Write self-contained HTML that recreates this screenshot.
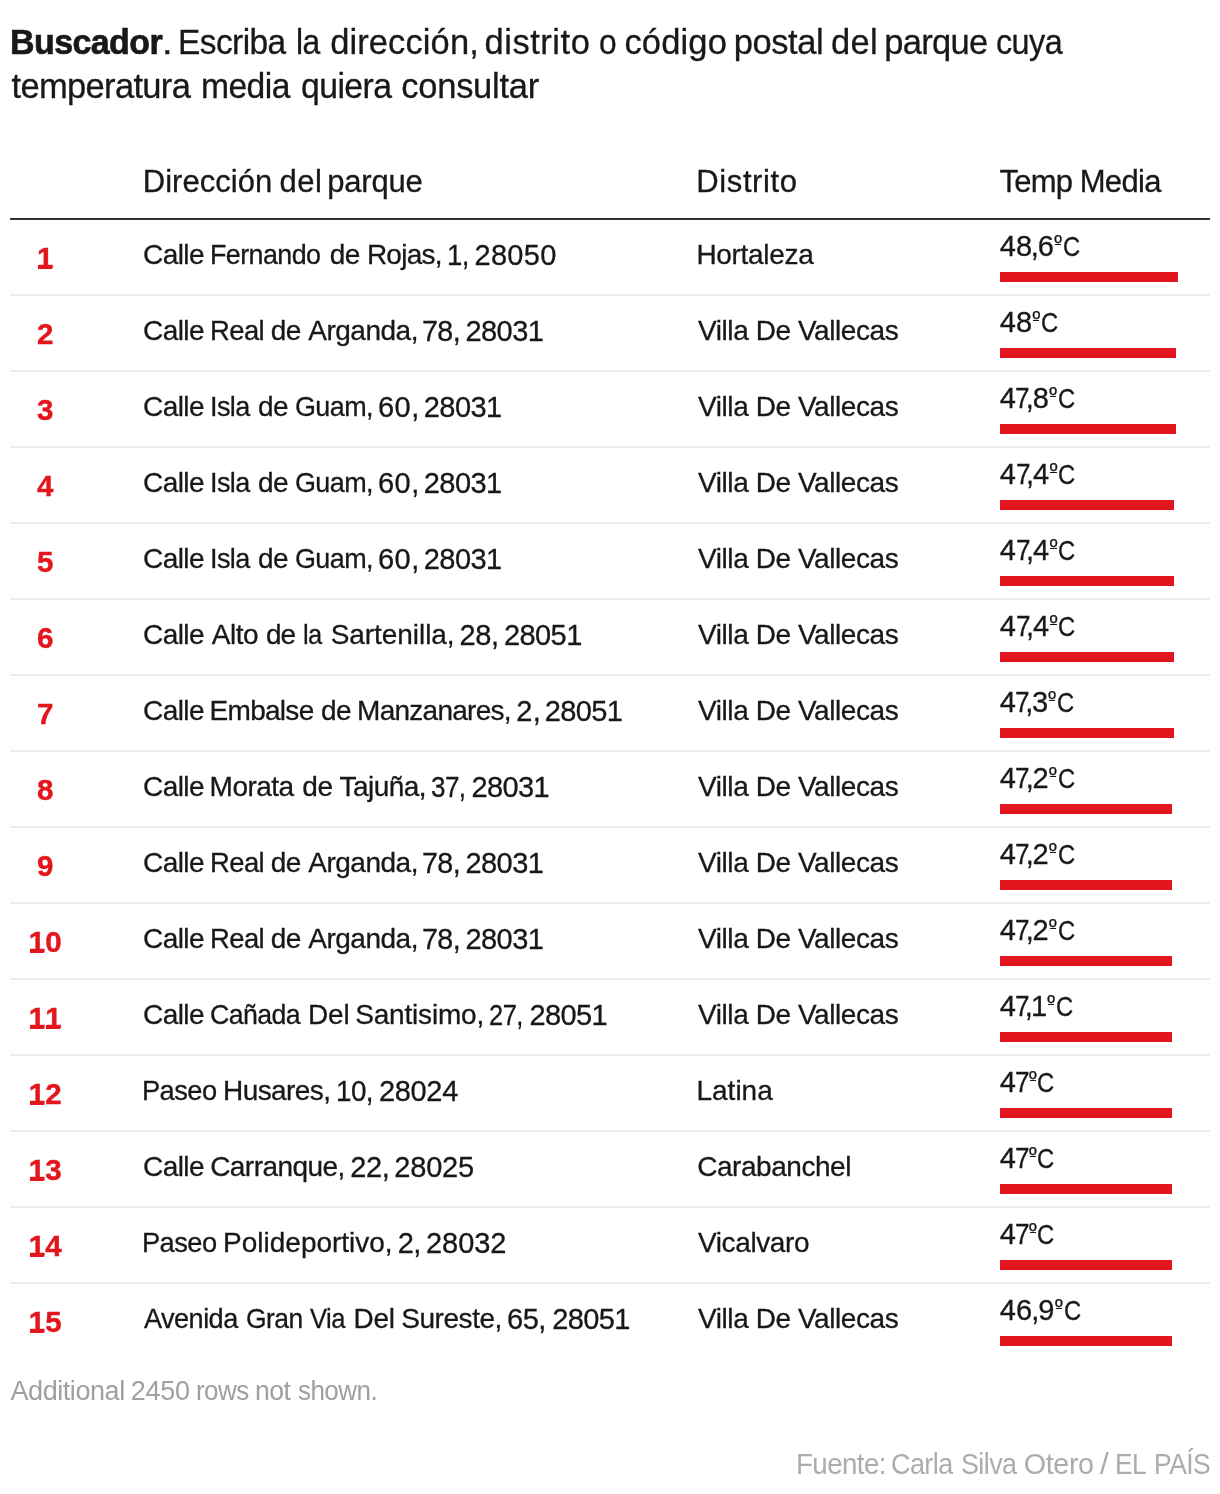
<!DOCTYPE html>
<html lang="es"><head><meta charset="utf-8"><title>Buscador</title>
<style>
html,body{margin:0;padding:0;background:#fff;}
body{width:1220px;height:1494px;position:relative;overflow:hidden;font-family:"Liberation Sans",sans-serif;color:#181818;}
.x{position:absolute;white-space:nowrap;transform-origin:0 0;-webkit-text-stroke:0.3px currentColor;}
.title{font-size:34.5px;line-height:44px;}
.tb{font-weight:bold;-webkit-text-stroke:0.65px currentColor;}
.hdr{font-size:31px;line-height:36px;}
.a,.d,.t{font-size:28px;line-height:32px;}
.ag{font-size:29px;line-height:32px;}
.g{font-size:29px;letter-spacing:-0.1px;}
.c{margin:0 -1.2px;}
.o{font-size:21px;position:relative;top:-6px;letter-spacing:0;margin:0 0.9px 0 0.5px;display:inline-block;line-height:21px;}
.o::after{content:"";position:absolute;left:0.8px;right:0.8px;top:11.7px;height:1.3px;background:#181818;}
.cc{display:inline-block;transform:scaleX(0.85);transform-origin:0 50%;margin-right:-3.3px;}
.s7{display:inline-block;transform:scaleX(0.9);transform-origin:0 50%;margin:0 -2.3px 0 -0.5px;}
.k{margin-left:-3.4px;}
.n{width:70px;text-align:center;font-weight:bold;color:#e2161c;font-size:29.5px;line-height:32px;-webkit-text-stroke:0.4px currentColor;}
.n i{font-style:normal;position:relative;display:inline-block;}
.n i::after{content:"";position:absolute;left:1px;right:1.6px;bottom:5.5px;height:4px;background:#e2161c;}
.bar{position:absolute;left:1000px;height:10px;background:#e2161c;}
.hline{position:absolute;left:10px;width:1200px;top:218px;height:2px;background:#333;}
.dv{position:absolute;left:10px;width:1200px;height:2px;background:#ececec;}
.more{font-size:27px;line-height:30px;color:#a0a0a0;-webkit-text-stroke:0;}
.src{font-size:28.7px;line-height:32px;color:#acacac;-webkit-text-stroke:0;}
</style></head><body>
<div class="tl"><span class="x title tb" style="left:9.84px;top:20px;letter-spacing:-0.6px;transform:scaleX(0.9855)">Buscador</span><span class="x title" style="left:161.6px;top:20px;letter-spacing:0px;transform:scaleX(1.1)">. </span><span class="x title" style="left:178.49px;top:20px;letter-spacing:-0.6px;transform:scaleX(0.971)">Escriba </span><span class="x title" style="left:296.47px;top:20px;letter-spacing:-0.6px;transform:scaleX(0.9239)">la </span><span class="x title" style="left:330.15px;top:20px;letter-spacing:0.113px">dirección, </span><span class="x title" style="left:484.55px;top:20px;letter-spacing:0.53px">distrito </span><span class="x title" style="left:599.36px;top:20px;letter-spacing:0px;transform:scaleX(0.9195)">o </span><span class="x title" style="left:624.44px;top:20px;letter-spacing:0.143px">código </span><span class="x title" style="left:733.65px;top:20px;letter-spacing:-0.413px">postal </span><span class="x title" style="left:831.05px;top:20px;letter-spacing:0.296px">del </span><span class="x title" style="left:884.25px;top:20px;letter-spacing:-0.715px">parque </span><span class="x title" style="left:996.13px;top:20px;letter-spacing:-0.6px;transform:scaleX(0.9373)">cuya </span></div>
<div class="tl"><span class="x title" style="left:11.57px;top:64px;letter-spacing:-0.671px">temperatura </span><span class="x title" style="left:201.26px;top:64px;letter-spacing:-0.6px;transform:scaleX(0.976)">media </span><span class="x title" style="left:300.77px;top:64px;letter-spacing:-0.6px;transform:scaleX(0.9795)">quiera </span><span class="x title" style="left:401.34px;top:64px;letter-spacing:-0.272px">consultar </span></div>
<div class="tl"><span class="x hdr" style="left:142.76px;top:164px;letter-spacing:0.045px">Dirección </span><span class="x hdr" style="left:279.46px;top:164px;letter-spacing:0.5px">del </span><span class="x hdr" style="left:327.37px;top:164px;letter-spacing:-0.252px">parque </span></div>
<div class="x hdr" style="left:696.26px;top:164px;letter-spacing:0.619px">Distrito</div>
<div class="tl"><span class="x hdr" style="left:999.53px;top:164px;letter-spacing:-0.771px">Temp </span><span class="x hdr" style="left:1079.66px;top:164px;letter-spacing:-0.671px">Media </span></div>
<div class="hline"></div>
<div class="x n" style="left:10.2px;top:242px;letter-spacing:0px"><i>1</i></div>
<div class="tl"><span class="x a" style="left:143.07px;top:239px;letter-spacing:-0.599px">Calle </span><span class="x a" style="left:210.11px;top:239px;letter-spacing:-0.6px;transform:scaleX(0.9597)">Fernando </span><span class="x a" style="left:329.74px;top:239px;letter-spacing:-0.624px">de </span><span class="x a" style="left:366.92px;top:239px;letter-spacing:-0.756px">Rojas, </span><span class="x a ag" style="left:447.49px;top:239px;letter-spacing:-0.6px;transform:scaleX(0.9495)">1, </span><span class="x a ag" style="left:474.52px;top:239px;letter-spacing:0.291px">28050 </span></div>
<div class="x d" style="left:696.42px;top:239px;letter-spacing:-0.314px">Hortaleza</div>
<div class="x t" style="left:999.83px;top:230px"><span class="g" style="letter-spacing:-0.025px">48<span class="c">,</span>6</span><span class="o">º</span><span class="cc">C</span></div>
<div class="bar" style="top:272px;width:178px"></div>
<div class="dv" style="top:294px"></div>
<div class="x n" style="left:10.2px;top:318px;letter-spacing:0px">2</div>
<div class="tl"><span class="x a" style="left:143.07px;top:315px;letter-spacing:-0.599px">Calle </span><span class="x a" style="left:209.66px;top:315px;letter-spacing:-0.6px;transform:scaleX(0.9793)">Real </span><span class="x a" style="left:270.84px;top:315px;letter-spacing:-0.624px">de </span><span class="x a" style="left:308.24px;top:315px;letter-spacing:-0.489px">Arganda, </span><span class="x a ag" style="left:421.91px;top:315px;letter-spacing:-0.6px;transform:scaleX(0.9865)">78, </span><span class="x a ag" style="left:465.42px;top:315px;letter-spacing:-0.521px">28031 </span></div>
<div class="x d" style="left:698.0px;top:315px;letter-spacing:-0.425px">Villa De Vallecas</div>
<div class="x t" style="left:999.83px;top:306px"><span class="g" style="letter-spacing:-0.051px">48</span><span class="o">º</span><span class="cc">C</span></div>
<div class="bar" style="top:348px;width:176px"></div>
<div class="dv" style="top:370px"></div>
<div class="x n" style="left:10.2px;top:394px;letter-spacing:0px">3</div>
<div class="tl"><span class="x a" style="left:143.07px;top:391px;letter-spacing:-0.599px">Calle </span><span class="x a" style="left:209.52px;top:391px;letter-spacing:-0.6px;transform:scaleX(0.9649)">Isla </span><span class="x a" style="left:257.94px;top:391px;letter-spacing:-0.624px">de </span><span class="x a" style="left:294.53px;top:391px;letter-spacing:-0.6px;transform:scaleX(0.9619)">Guam, </span><span class="x a ag" style="left:377.95px;top:391px;letter-spacing:0.537px">60, </span><span class="x a ag" style="left:423.72px;top:391px;letter-spacing:-0.546px">28031 </span></div>
<div class="x d" style="left:698.0px;top:391px;letter-spacing:-0.425px">Villa De Vallecas</div>
<div class="x t" style="left:999.83px;top:382px"><span class="g" style="letter-spacing:-0.025px">4<span class="s7">7</span><span class="c k">,</span>8</span><span class="o">º</span><span class="cc">C</span></div>
<div class="bar" style="top:424px;width:176px"></div>
<div class="dv" style="top:446px"></div>
<div class="x n" style="left:10.2px;top:470px;letter-spacing:0px">4</div>
<div class="tl"><span class="x a" style="left:143.07px;top:467px;letter-spacing:-0.599px">Calle </span><span class="x a" style="left:209.52px;top:467px;letter-spacing:-0.6px;transform:scaleX(0.9649)">Isla </span><span class="x a" style="left:257.94px;top:467px;letter-spacing:-0.624px">de </span><span class="x a" style="left:294.53px;top:467px;letter-spacing:-0.6px;transform:scaleX(0.9619)">Guam, </span><span class="x a ag" style="left:377.95px;top:467px;letter-spacing:0.537px">60, </span><span class="x a ag" style="left:423.72px;top:467px;letter-spacing:-0.546px">28031 </span></div>
<div class="x d" style="left:698.0px;top:467px;letter-spacing:-0.425px">Villa De Vallecas</div>
<div class="x t" style="left:999.83px;top:458px"><span class="g" style="letter-spacing:0.05px">4<span class="s7">7</span><span class="c k">,</span>4</span><span class="o">º</span><span class="cc">C</span></div>
<div class="bar" style="top:500px;width:174px"></div>
<div class="dv" style="top:522px"></div>
<div class="x n" style="left:10.2px;top:546px;letter-spacing:0px">5</div>
<div class="tl"><span class="x a" style="left:143.07px;top:543px;letter-spacing:-0.599px">Calle </span><span class="x a" style="left:209.52px;top:543px;letter-spacing:-0.6px;transform:scaleX(0.9649)">Isla </span><span class="x a" style="left:257.94px;top:543px;letter-spacing:-0.624px">de </span><span class="x a" style="left:294.53px;top:543px;letter-spacing:-0.6px;transform:scaleX(0.9619)">Guam, </span><span class="x a ag" style="left:377.95px;top:543px;letter-spacing:0.537px">60, </span><span class="x a ag" style="left:423.72px;top:543px;letter-spacing:-0.546px">28031 </span></div>
<div class="x d" style="left:698.0px;top:543px;letter-spacing:-0.425px">Villa De Vallecas</div>
<div class="x t" style="left:999.83px;top:534px"><span class="g" style="letter-spacing:0.05px">4<span class="s7">7</span><span class="c k">,</span>4</span><span class="o">º</span><span class="cc">C</span></div>
<div class="bar" style="top:576px;width:174px"></div>
<div class="dv" style="top:598px"></div>
<div class="x n" style="left:10.2px;top:622px;letter-spacing:0px">6</div>
<div class="tl"><span class="x a" style="left:143.07px;top:619px;letter-spacing:-0.599px">Calle </span><span class="x a" style="left:211.64px;top:619px;letter-spacing:-0.421px">Alto </span><span class="x a" style="left:265.94px;top:619px;letter-spacing:-0.924px">de </span><span class="x a" style="left:302.89px;top:619px;letter-spacing:-0.6px;transform:scaleX(0.9113)">la </span><span class="x a" style="left:330.68px;top:619px;letter-spacing:-0.056px">Sartenilla, </span><span class="x a ag" style="left:459.62px;top:619px;letter-spacing:-0.45px">28, </span><span class="x a ag" style="left:504.02px;top:619px;letter-spacing:-0.596px">28051 </span></div>
<div class="x d" style="left:698.0px;top:619px;letter-spacing:-0.425px">Villa De Vallecas</div>
<div class="x t" style="left:999.83px;top:610px"><span class="g" style="letter-spacing:0.05px">4<span class="s7">7</span><span class="c k">,</span>4</span><span class="o">º</span><span class="cc">C</span></div>
<div class="bar" style="top:652px;width:174px"></div>
<div class="dv" style="top:674px"></div>
<div class="x n" style="left:10.2px;top:698px;letter-spacing:0px">7</div>
<div class="tl"><span class="x a" style="left:143.07px;top:695px;letter-spacing:-0.599px">Calle </span><span class="x a" style="left:209.62px;top:695px;letter-spacing:-0.724px">Embalse </span><span class="x a" style="left:321.04px;top:695px;letter-spacing:-0.624px">de </span><span class="x a" style="left:357.12px;top:695px;letter-spacing:-0.742px">Manzanares, </span><span class="x a ag" style="left:516.22px;top:695px;letter-spacing:0.4px">2, </span><span class="x a ag" style="left:544.72px;top:695px;letter-spacing:-0.621px">28051 </span></div>
<div class="x d" style="left:698.0px;top:695px;letter-spacing:-0.425px">Villa De Vallecas</div>
<div class="x t" style="left:999.83px;top:686px"><span class="g" style="letter-spacing:-0.275px">4<span class="s7">7</span><span class="c k">,</span>3</span><span class="o">º</span><span class="cc">C</span></div>
<div class="bar" style="top:728px;width:174px"></div>
<div class="dv" style="top:750px"></div>
<div class="x n" style="left:10.2px;top:774px;letter-spacing:0px">8</div>
<div class="tl"><span class="x a" style="left:143.07px;top:771px;letter-spacing:-0.599px">Calle </span><span class="x a" style="left:209.62px;top:771px;letter-spacing:-0.557px">Morata </span><span class="x a" style="left:302.34px;top:771px;letter-spacing:-0.524px">de </span><span class="x a" style="left:339.59px;top:771px;letter-spacing:-0.543px">Tajuña, </span><span class="x a ag" style="left:431.42px;top:771px;letter-spacing:-0.6px;transform:scaleX(0.8962)">37, </span><span class="x a ag" style="left:471.52px;top:771px;letter-spacing:-0.621px">28031 </span></div>
<div class="x d" style="left:698.0px;top:771px;letter-spacing:-0.425px">Villa De Vallecas</div>
<div class="x t" style="left:999.83px;top:762px"><span class="g" style="letter-spacing:-0.1px">4<span class="s7">7</span><span class="c k">,</span>2</span><span class="o">º</span><span class="cc">C</span></div>
<div class="bar" style="top:804px;width:172px"></div>
<div class="dv" style="top:826px"></div>
<div class="x n" style="left:10.2px;top:850px;letter-spacing:0px">9</div>
<div class="tl"><span class="x a" style="left:143.07px;top:847px;letter-spacing:-0.599px">Calle </span><span class="x a" style="left:209.66px;top:847px;letter-spacing:-0.6px;transform:scaleX(0.9793)">Real </span><span class="x a" style="left:270.84px;top:847px;letter-spacing:-0.624px">de </span><span class="x a" style="left:308.24px;top:847px;letter-spacing:-0.489px">Arganda, </span><span class="x a ag" style="left:421.91px;top:847px;letter-spacing:-0.6px;transform:scaleX(0.9865)">78, </span><span class="x a ag" style="left:465.42px;top:847px;letter-spacing:-0.521px">28031 </span></div>
<div class="x d" style="left:698.0px;top:847px;letter-spacing:-0.425px">Villa De Vallecas</div>
<div class="x t" style="left:999.83px;top:838px"><span class="g" style="letter-spacing:-0.1px">4<span class="s7">7</span><span class="c k">,</span>2</span><span class="o">º</span><span class="cc">C</span></div>
<div class="bar" style="top:880px;width:172px"></div>
<div class="dv" style="top:902px"></div>
<div class="x n" style="left:10.2px;top:926px;letter-spacing:0px"><i>1</i>0</div>
<div class="tl"><span class="x a" style="left:143.07px;top:923px;letter-spacing:-0.599px">Calle </span><span class="x a" style="left:209.66px;top:923px;letter-spacing:-0.6px;transform:scaleX(0.9793)">Real </span><span class="x a" style="left:270.84px;top:923px;letter-spacing:-0.624px">de </span><span class="x a" style="left:308.24px;top:923px;letter-spacing:-0.489px">Arganda, </span><span class="x a ag" style="left:421.91px;top:923px;letter-spacing:-0.6px;transform:scaleX(0.9865)">78, </span><span class="x a ag" style="left:465.42px;top:923px;letter-spacing:-0.521px">28031 </span></div>
<div class="x d" style="left:698.0px;top:923px;letter-spacing:-0.425px">Villa De Vallecas</div>
<div class="x t" style="left:999.83px;top:914px"><span class="g" style="letter-spacing:-0.1px">4<span class="s7">7</span><span class="c k">,</span>2</span><span class="o">º</span><span class="cc">C</span></div>
<div class="bar" style="top:956px;width:172px"></div>
<div class="dv" style="top:978px"></div>
<div class="x n" style="left:10.2px;top:1002px;letter-spacing:0px"><i>1</i><i>1</i></div>
<div class="tl"><span class="x a" style="left:143.07px;top:999px;letter-spacing:-0.599px">Calle </span><span class="x a" style="left:209.94px;top:999px;letter-spacing:-0.6px;transform:scaleX(0.9527)">Cañada </span><span class="x a" style="left:307.92px;top:999px;letter-spacing:-0.119px">Del </span><span class="x a" style="left:355.28px;top:999px;letter-spacing:-0.198px">Santisimo, </span><span class="x a ag" style="left:488.98px;top:999px;letter-spacing:-0.6px;transform:scaleX(0.8782)">27, </span><span class="x a ag" style="left:529.52px;top:999px;letter-spacing:-0.621px">28051 </span></div>
<div class="x d" style="left:698.0px;top:999px;letter-spacing:-0.425px">Villa De Vallecas</div>
<div class="x t" style="left:999.83px;top:990px"><span class="g" style="letter-spacing:-0.575px">4<span class="s7">7</span><span class="c k">,</span>1</span><span class="o">º</span><span class="cc">C</span></div>
<div class="bar" style="top:1032px;width:172px"></div>
<div class="dv" style="top:1054px"></div>
<div class="x n" style="left:10.2px;top:1078px;letter-spacing:0px"><i>1</i>2</div>
<div class="tl"><span class="x a" style="left:142.47px;top:1075px;letter-spacing:-0.6px;transform:scaleX(0.975)">Paseo </span><span class="x a" style="left:223.12px;top:1075px;letter-spacing:-0.602px">Husares, </span><span class="x a ag" style="left:336.27px;top:1075px;letter-spacing:-0.6px;transform:scaleX(0.9604)">10, </span><span class="x a ag" style="left:378.92px;top:1075px;letter-spacing:-0.323px">28024 </span></div>
<div class="x d" style="left:696.42px;top:1075px;letter-spacing:0.015px">Latina</div>
<div class="x t" style="left:999.83px;top:1066px"><span class="g" style="letter-spacing:-0.451px">4<span class="s7">7</span></span><span class="o">º</span><span class="cc">C</span></div>
<div class="bar" style="top:1108px;width:172px"></div>
<div class="dv" style="top:1130px"></div>
<div class="x n" style="left:10.2px;top:1154px;letter-spacing:0px"><i>1</i>3</div>
<div class="tl"><span class="x a" style="left:143.07px;top:1151px;letter-spacing:-0.599px">Calle </span><span class="x a" style="left:210.17px;top:1151px;letter-spacing:-0.541px">Carranque, </span><span class="x a ag" style="left:350.32px;top:1151px;letter-spacing:-0.45px">22, </span><span class="x a ag" style="left:394.32px;top:1151px;letter-spacing:-0.196px">28025 </span></div>
<div class="x d" style="left:697.27px;top:1151px;letter-spacing:-0.468px">Carabanchel</div>
<div class="x t" style="left:999.83px;top:1142px"><span class="g" style="letter-spacing:-0.451px">4<span class="s7">7</span></span><span class="o">º</span><span class="cc">C</span></div>
<div class="bar" style="top:1184px;width:172px"></div>
<div class="dv" style="top:1206px"></div>
<div class="x n" style="left:10.2px;top:1230px;letter-spacing:0px"><i>1</i>4</div>
<div class="tl"><span class="x a" style="left:142.47px;top:1227px;letter-spacing:-0.6px;transform:scaleX(0.975)">Paseo </span><span class="x a" style="left:223.12px;top:1227px;letter-spacing:-0.009px">Polideportivo, </span><span class="x a ag" style="left:397.82px;top:1227px;letter-spacing:-0.7px">2, </span><span class="x a ag" style="left:426.02px;top:1227px;letter-spacing:-0.059px">28032 </span></div>
<div class="x d" style="left:698.0px;top:1227px;letter-spacing:-0.392px">Vicalvaro</div>
<div class="x t" style="left:999.83px;top:1218px"><span class="g" style="letter-spacing:-0.451px">4<span class="s7">7</span></span><span class="o">º</span><span class="cc">C</span></div>
<div class="bar" style="top:1260px;width:172px"></div>
<div class="dv" style="top:1282px"></div>
<div class="x n" style="left:10.2px;top:1306px;letter-spacing:0px"><i>1</i>5</div>
<div class="tl"><span class="x a" style="left:144.45px;top:1303px;letter-spacing:-0.6px;transform:scaleX(0.9711)">Avenida </span><span class="x a" style="left:245.75px;top:1303px;letter-spacing:-0.6px;transform:scaleX(0.9451)">Gran </span><span class="x a" style="left:310.41px;top:1303px;letter-spacing:-0.6px;transform:scaleX(0.9134)">Via </span><span class="x a" style="left:353.62px;top:1303px;letter-spacing:-0.269px">Del </span><span class="x a" style="left:401.28px;top:1303px;letter-spacing:-0.449px">Sureste, </span><span class="x a ag" style="left:506.95px;top:1303px;letter-spacing:-0.413px">65, </span><span class="x a ag" style="left:552.22px;top:1303px;letter-spacing:-0.596px">28051 </span></div>
<div class="x d" style="left:698.0px;top:1303px;letter-spacing:-0.425px">Villa De Vallecas</div>
<div class="x t" style="left:999.83px;top:1294px"><span class="g" style="letter-spacing:0.15px">46<span class="c">,</span>9</span><span class="o">º</span><span class="cc">C</span></div>
<div class="bar" style="top:1336px;width:172px"></div>
<div class="tl"><span class="x more" style="left:10.48px;top:1376px;letter-spacing:-0.433px">Additional </span><span class="x more" style="left:130.67px;top:1376px;letter-spacing:-0.207px">2450 </span><span class="x more" style="left:195.87px;top:1376px;letter-spacing:-0.6px;transform:scaleX(0.9636)">rows </span><span class="x more" style="left:254.63px;top:1376px;letter-spacing:-0.6px;transform:scaleX(0.9852)">not </span><span class="x more" style="left:297.5px;top:1376px;letter-spacing:-0.6px;transform:scaleX(0.965)">shown. </span></div>
<div class="tl"><span class="x src" style="left:795.85px;top:1448px;letter-spacing:-0.6px;transform:scaleX(0.9662)">Fuente: </span><span class="x src" style="left:891.02px;top:1448px;letter-spacing:-0.6px;transform:scaleX(0.9408)">Carla </span><span class="x src" style="left:960.81px;top:1448px;letter-spacing:-0.6px;transform:scaleX(0.936)">Silva </span><span class="x src" style="left:1023.83px;top:1448px;letter-spacing:-0.382px">Otero </span><span class="x src" style="left:1100.01px;top:1448px;letter-spacing:0px;transform:scaleX(1.1)">/ </span><span class="x src" style="left:1115.47px;top:1448px;letter-spacing:-0.6px;transform:scaleX(0.9171)">EL </span><span class="x src" style="left:1153.85px;top:1448px;letter-spacing:-0.6px;transform:scaleX(0.9225)">PAÍS </span></div>
</body></html>
